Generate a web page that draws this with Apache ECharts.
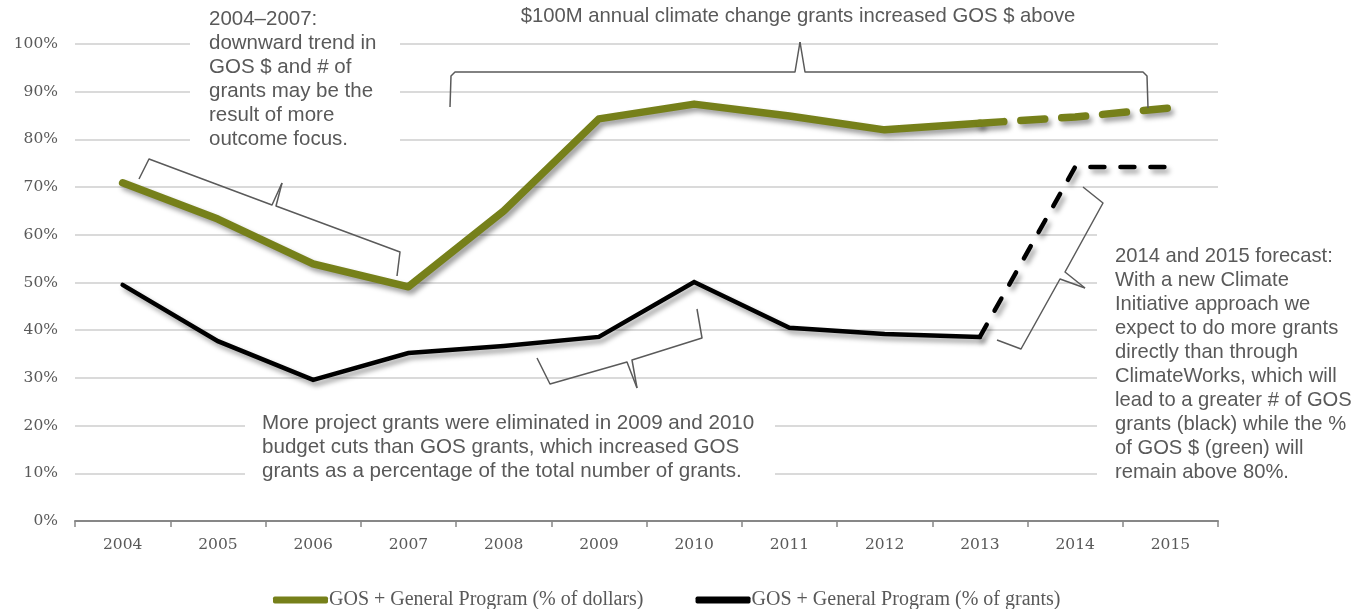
<!DOCTYPE html>
<html>
<head>
<meta charset="utf-8">
<script src="https://cdn.jsdelivr.net/npm/echarts@6/dist/echarts.min.js"></script>
<style>
  html, body { margin: 0; padding: 0; background: #fff; }
  #chart { width: 1364px; height: 609px; }
</style>
</head>
<body>
<div id="chart"></div>
<script>
// Years on the category axis
const years = ['2004', '2005', '2006', '2007', '2008', '2009', '2010', '2011', '2012', '2013', '2014', '2015'];
// GOS + General Program share of dollars (%)
const dollarsPct = [70.9, 63.3, 53.9, 49.1, 65.0, 84.3, 87.4, 84.9, 82.0, 83.4, 84.7, 86.6];
// GOS + General Program share of number of grants (%)
const grantsPct = [49.5, 37.7, 29.6, 35.2, 36.7, 38.6, 50.1, 40.5, 39.2, 38.6, 74.2, 74.2];
// Last actual year; later years are forecasts drawn dashed
const lastActual = '2013';
// Value axis ticks
const yMin = 0, yMax = 100, yStep = 10;

const seriesNames = ['GOS + General Program (% of dollars)', 'GOS + General Program (% of grants)'];
const GREEN = '#76801a';
const INK = '#595959';

const cut = years.indexOf(lastActual);
const actualPart = arr => arr.map((v, i) => (i <= cut ? v : null));
const forecastPart = arr => arr.map((v, i) => (i >= cut ? v : null));

const shadow = { shadowColor: 'rgba(0,0,0,0.38)', shadowBlur: 5, shadowOffsetX: 3, shadowOffsetY: 4 };

const annoFont = '"Liberation Sans", Arial, sans-serif';
const axisFont = 'DejaVu Serif';

const chart = echarts.init(document.getElementById('chart'), null, { renderer: 'canvas' });

const brace = pts => ({
  type: 'polyline', z: 5, silent: true,
  shape: { points: pts },
  style: { stroke: '#5a5a5a', lineWidth: 1.5, fill: null, lineJoin: 'round' }
});
const note = (x, y, text, size, align) => ({
  type: 'text', z: 6, silent: true, x, y,
  style: {
    text, fill: INK, font: size + 'px ' + annoFont, lineHeight: 24,
    textVerticalAlign: 'top', textAlign: align || 'left'
  }
});
const mask = (x, y, w, h) => ({
  type: 'rect', z: 1, silent: true, shape: { x, y, width: w, height: h },
  style: { fill: '#ffffff' }
});

chart.setOption({
  animation: false,
  backgroundColor: '#ffffff',
  grid: { left: 75, right: 146, top: 44, bottom: 88, containLabel: false },
  xAxis: {
    type: 'category',
    data: years,
    boundaryGap: true,
    axisLine: { show: true, lineStyle: { color: '#878787', width: 2 } },
    axisTick: { show: true, length: 6, lineStyle: { color: '#878787', width: 1.5 } },
    axisLabel: { color: INK, fontFamily: axisFont, fontSize: 15.5, margin: 16 },
    splitLine: { show: false }
  },
  yAxis: {
    type: 'value',
    min: yMin, max: yMax, interval: yStep,
    axisLine: { show: false },
    axisTick: { show: false },
    axisLabel: { color: INK, fontFamily: axisFont, fontSize: 15.5, margin: 17, formatter: '{value}%' },
    splitLine: { lineStyle: { color: '#dadada', width: 2 } }
  },
  legend: {
    data: seriesNames,
    left: 268, top: 585,
    itemWidth: 55, itemHeight: 7, itemGap: 52,
    icon: 'roundRect',
    textStyle: { color: INK, fontFamily: '"Liberation Serif", serif', fontSize: 20, padding: [0, 0, 0, -4] }
  },
  series: [
    {
      name: seriesNames[0], type: 'line', data: actualPart(dollarsPct),
      symbol: 'none', color: GREEN, z: 3,
      lineStyle: Object.assign({ color: GREEN, width: 7.5, cap: 'round', join: 'round' }, shadow)
    },
    {
      name: seriesNames[0], type: 'line', data: forecastPart(dollarsPct),
      symbol: 'none', color: GREEN, z: 3,
      lineStyle: Object.assign({ color: GREEN, width: 7.5, type: [24, 17], cap: 'round', join: 'round' }, shadow)
    },
    {
      name: seriesNames[1], type: 'line', data: actualPart(grantsPct),
      symbol: 'none', color: '#000000', z: 3,
      lineStyle: Object.assign({ color: '#000000', width: 4.5, cap: 'round', join: 'miter' }, shadow)
    },
    {
      name: seriesNames[1], type: 'line', data: forecastPart(grantsPct),
      symbol: 'none', color: '#000000', z: 3,
      lineStyle: Object.assign({ color: '#000000', width: 4.5, type: [14, 16], cap: 'round', join: 'miter' }, shadow)
    }
  ],
  graphic: [
    // white panels behind the notes
    mask(190, 4, 210, 148),
    mask(245, 408, 530, 80),
    mask(1097, 232, 267, 262),
    // note texts
    note(209, 7, '2004–2007:\ndownward trend in\nGOS $ and # of\ngrants may be the\nresult of more\noutcome focus.', 20.5),
    note(798, 4, '$100M annual climate change grants increased GOS $ above', 20.3, 'center'),
    note(262, 411, 'More project grants were eliminated in 2009 and 2010\nbudget cuts than GOS grants, which increased GOS\ngrants as a percentage of the total number of grants.', 20.6),
    note(1115, 244, '2014 and 2015 forecast:\nWith a new Climate\nInitiative approach we\nexpect to do more grants\ndirectly than through\nClimateWorks, which will\nlead to a greater # of GOS\ngrants (black) while the %\nof GOS $ (green) will\nremain above 80%.', 20.2),
    // braces
    brace([[139, 179], [149, 159], [272, 205], [282, 183]]),
    brace([[282, 183], [276, 206], [400, 252], [397, 276]]),
    brace([[450, 107], [451, 76], [455, 72], [795, 72], [800, 42]]),
    brace([[800, 42], [805, 72], [1143, 72], [1147, 76], [1148, 108]]),
    brace([[537, 358], [550, 384], [627, 362], [637, 388]]),
    brace([[637, 388], [632, 360], [702, 338], [697, 309]]),
    brace([[1083, 187], [1103, 203], [1065, 272], [1085, 288]]),
    brace([[1085, 288], [1060, 279], [1021, 349], [997, 340]])
  ]
});
</script>
</body>
</html>
